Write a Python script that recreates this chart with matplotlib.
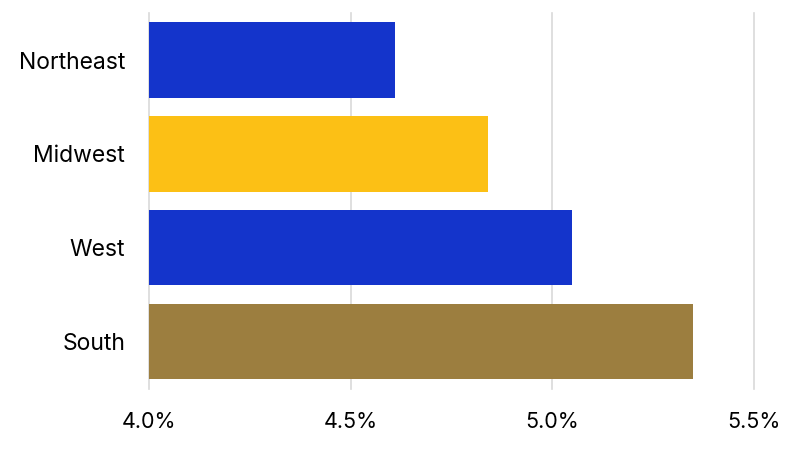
import matplotlib
matplotlib.use("Agg")
import matplotlib.pyplot as plt
from matplotlib.ticker import FuncFormatter

regions = ["Northeast", "Midwest", "West", "South"]
values = [4.61, 4.84, 5.05, 5.35]
colors = ["#1434CB", "#FCC015", "#1434CB", "#9C7E3F"]
xticks = [4.0, 4.5, 5.0, 5.5]

plt.rcParams['font.family'] = ['Inter', 'DejaVu Sans']

fig = plt.figure(figsize=(8, 4.5), dpi=100)
ax = fig.add_axes([0.186, 0.136, 0.9425 - 0.186, 0.971 - 0.136])

ax.barh(range(len(regions)), [v - 4.0 for v in values], left=4.0,
        color=colors, height=0.8, zorder=3)
ax.set_yticks(range(len(regions)))
ax.set_yticklabels(regions)
ax.set_ylim(3.5, -0.5)
ax.set_xlim(4.0, 5.5)
ax.set_xticks(xticks)
ax.xaxis.set_major_formatter(FuncFormatter(lambda v, p: f"{v:.1f}%"))
ax.grid(axis='x', color='#d9d9d9', linewidth=1.2, zorder=0)
for s in ax.spines.values():
    s.set_visible(False)
ax.tick_params(axis='both', length=0, colors='black')
ax.tick_params(axis='x', pad=17, labelsize=15.5)
ax.tick_params(axis='y', pad=17, labelsize=16.5)
for line in ax.get_xgridlines():
    line.set_clip_on(False)

fig.savefig("out.png", dpi=100)
